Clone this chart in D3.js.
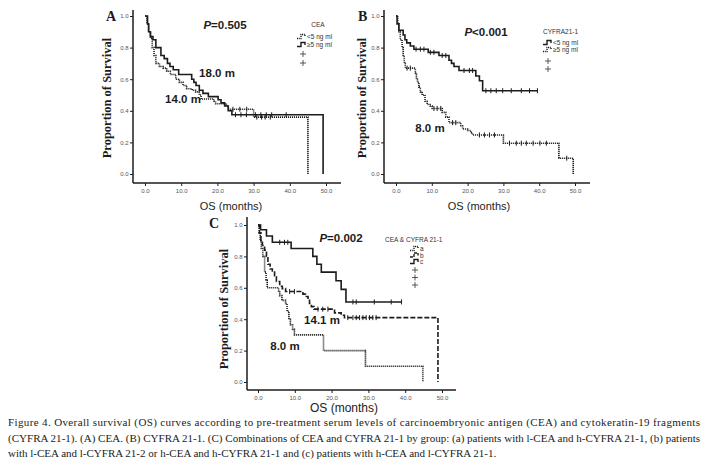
<!DOCTYPE html>
<html><head><meta charset="utf-8">
<script src="https://cdn.jsdelivr.net/npm/d3@7"></script>
<style>html,body{margin:0;padding:0;background:#fff}svg{display:block}</style>
</head><body>
<svg id="fig" width="708" height="468"></svg>
<script>
// ---------- DATA ----------
const xTicks = [0, 10, 20, 30, 40, 50];
const yTicks = [0, 0.2, 0.4, 0.6, 0.8, 1.0];

// Panel A: CEA
const aLowTimes  = [0, 0.5, 1.0, 1.5, 2.0, 2.5, 3.0, 4.0, 5.0, 6.0, 7.0, 8.5, 9.5, 10.5, 11.5, 13.0, 14.0, 15.0, 15.5, 19.0, 19.5, 22.5, 23.0, 30.0, 45.0];
const aLowSurv   = [1.0, 0.95, 0.90, 0.86, 0.80, 0.75, 0.70, 0.68, 0.67, 0.65, 0.63, 0.60, 0.58, 0.56, 0.54, 0.53, 0.52, 0.50, 0.475, 0.46, 0.445, 0.43, 0.41, 0.36, 0];
const aLowCensor = [24.3, 26.2, 28.1, 30.9, 32.2, 33.2, 34.6];
const aHighTimes  = [0, 0.7, 1.0, 1.5, 2.2, 3.0, 4.4, 5.3, 6.2, 6.9, 7.8, 9.3, 12.9, 13.5, 14.1, 15.0, 16.0, 17.5, 20.2, 21.0, 22.0, 23.0, 24.0, 49.2];
const aHighSurv   = [1.0, 0.95, 0.90, 0.87, 0.85, 0.80, 0.75, 0.73, 0.70, 0.68, 0.66, 0.63, 0.60, 0.58, 0.56, 0.53, 0.51, 0.49, 0.47, 0.45, 0.43, 0.40, 0.375, 0];
const aHighCensor = [25, 26.5, 28, 30.5, 32, 33.5, 35, 39];

// Panel B: CYFRA 21-1
const bLowTimes  = [0, 0.3, 0.8, 2.0, 2.5, 3.0, 4.0, 5.0, 9.0, 12.0, 14.8, 15.5, 16.2, 17.6, 22.3, 23.3, 24.2, 39.5];
const bLowSurv   = [1.0, 0.95, 0.91, 0.88, 0.85, 0.83, 0.81, 0.79, 0.77, 0.75, 0.72, 0.70, 0.68, 0.655, 0.62, 0.59, 0.527, 0.527];
const bLowCensor = [5.6, 6.8, 7.8, 9.6, 10.6, 12.9, 13.9, 19.0, 20.5, 21.4, 25.1, 26.5, 28.0, 29.8, 32.2, 35.0, 37.3, 39.5];
const bHighTimes  = [0, 0.5, 0.8, 1.2, 1.7, 2.0, 2.3, 2.6, 5.4, 5.7, 6.0, 6.4, 6.8, 7.3, 8.1, 8.7, 9.5, 10.1, 12.9, 13.9, 14.8, 18.1, 18.6, 20.0, 20.9, 21.4, 30.0, 45.5, 49.5];
const bHighSurv   = [1.0, 0.95, 0.90, 0.85, 0.80, 0.75, 0.70, 0.67, 0.64, 0.60, 0.58, 0.55, 0.52, 0.50, 0.46, 0.44, 0.43, 0.415, 0.39, 0.36, 0.325, 0.305, 0.285, 0.275, 0.26, 0.247, 0.195, 0.10, 0];
const bHighCensor = [3.1, 4.0, 10.6, 11.5, 12.5, 15.8, 16.7, 23.3, 24.7, 26.1, 27.5, 31.7, 33.6, 35.0, 36.4, 38.3, 40.2, 42.0, 47.7];

// Panel C: CEA & CYFRA 21-1 groups
const cATimes  = [0, 0.3, 0.6, 0.9, 1.3, 1.8, 2.2, 2.5, 5.6, 5.9, 6.5, 7.5, 7.9, 8.4, 8.8, 9.4, 9.9, 17.8, 29.2, 44.8];
const cASurv   = [1.0, 0.95, 0.90, 0.85, 0.80, 0.70, 0.65, 0.60, 0.58, 0.55, 0.52, 0.50, 0.45, 0.40, 0.365, 0.335, 0.30, 0.20, 0.10, 0];
const cACensor = [];
const cBTimes  = [0, 0.4, 0.8, 1.2, 1.8, 2.3, 2.7, 3.3, 3.9, 4.5, 5.0, 5.9, 6.6, 7.5, 12.2, 12.9, 13.6, 14.0, 14.5, 15.2, 20.8, 22.6, 23.5, 48.9];
const cBSurv   = [1.0, 0.95, 0.90, 0.87, 0.84, 0.80, 0.75, 0.72, 0.70, 0.67, 0.64, 0.61, 0.595, 0.576, 0.56, 0.545, 0.52, 0.50, 0.48, 0.464, 0.44, 0.425, 0.41, 0];
const cBCensor = [8.6, 9.9, 16.3, 17.6, 19.0, 24.4, 25.8, 26.7, 27.6, 28.5, 29.4, 30.3, 31.2, 32.1];
const cCTimes  = [0, 0.7, 2.3, 3.9, 9.0, 14.9, 16.0, 17.2, 21.2, 22.6, 23.9, 39.0];
const cCSurv   = [1.0, 0.97, 0.93, 0.89, 0.85, 0.80, 0.75, 0.70, 0.645, 0.59, 0.51, 0.51];
const cCCensor = [5.9, 7.2, 8.1, 25.8, 26.7, 31.6, 36.2, 39.0];

const captionLines = [
  "Figure 4. Overall survival (OS) curves according to pre-treatment serum levels of carcinoembryonic antigen (CEA) and cytokeratin-19 fragments",
  "(CYFRA 21-1). (A) CEA. (B) CYFRA 21-1. (C) Combinations of CEA and CYFRA 21-1 by group: (a) patients with l-CEA and h-CYFRA 21-1, (b) patients",
  "with l-CEA and l-CYFRA 21-2 or h-CEA and h-CYFRA 21-1 and (c) patients with h-CEA and l-CYFRA 21-1."
];

// ---------- DRAWING ----------
const svg = d3.select("#fig");
const INK = "#1c1c1c";
const styles = {
  solid:  {dash: null, w: 1.6},
  dotted: {dash: "1.1,0.9", w: 1.6},
  dashed: {dash: "5,2", w: 1.6}
};

function survAt(times, surv, t) {
  let s = surv[0];
  for (let i = 0; i < times.length; i++) { if (times[i] <= t) s = surv[i]; }
  return s;
}

function panel(cfg) {
  const g = svg.append("g");
  const x = d3.scaleLinear().domain([0, 50]).range([cfg.x0, cfg.x50]);
  const y = d3.scaleLinear().domain([0, 1]).range([cfg.yb, cfg.yt]);

  g.append("line").attr("x1", cfg.ax).attr("x2", cfg.ax).attr("y1", cfg.axTop).attr("y2", cfg.axY)
    .attr("stroke", INK).attr("stroke-width", 1.5);
  g.append("line").attr("x1", cfg.ax).attr("x2", cfg.axRight).attr("y1", cfg.axY).attr("y2", cfg.axY)
    .attr("stroke", INK).attr("stroke-width", 1.5);

  const yAxis = d3.axisLeft(y).tickValues(yTicks).tickSize(3).tickPadding(1.5).tickFormat(d3.format(".1f"));
  const ya = g.append("g").attr("transform", `translate(${cfg.ax},0)`).call(yAxis);
  ya.select(".domain").remove();
  ya.selectAll("line").attr("stroke", INK);
  ya.selectAll("text").attr("font-family", "Liberation Sans, Arial, sans-serif").attr("font-size", cfg.tickFs).attr("fill", "#555");

  const xAxis = d3.axisBottom(x).tickValues(xTicks).tickSize(3).tickPadding(3).tickFormat(d3.format(".1f"));
  const xa = g.append("g").attr("transform", `translate(0,${cfg.axY})`).call(xAxis);
  xa.select(".domain").remove();
  xa.selectAll("line").attr("stroke", INK);
  xa.selectAll("text").attr("font-family", "Liberation Sans, Arial, sans-serif").attr("font-size", cfg.tickFs).attr("fill", "#555");

  cfg.series.forEach(s => {
    let d = `M${x(s.times[0])},${y(s.surv[0])}`;
    for (let i = 1; i < s.times.length; i++) d += `H${x(s.times[i])}V${y(s.surv[i])}`;
    const st = styles[s.style];
    g.append("path").attr("d", d).attr("fill", "none").attr("stroke", INK)
      .attr("stroke-width", st.w).attr("stroke-dasharray", st.dash);
    g.selectAll(null).data(s.censor).enter().append("line")
      .attr("x1", t => x(t)).attr("x2", t => x(t))
      .attr("y1", t => y(survAt(s.times, s.surv, t)) - 2.5)
      .attr("y2", t => y(survAt(s.times, s.surv, t)) + 2.5)
      .attr("stroke", INK).attr("stroke-width", 1);
  });

  g.append("text").attr("x", cfg.letter[0]).attr("y", cfg.letter[1]).text(cfg.name)
    .attr("font-family", "Liberation Serif, Times New Roman, serif").attr("font-weight", "bold").attr("font-size", 14).attr("fill", INK);

  g.append("text").attr("transform", `translate(${cfg.yTitle[0]},${cfg.yTitle[1]}) rotate(-90)`)
    .attr("text-anchor", "middle").text("Proportion of Survival")
    .attr("font-family", "Liberation Serif, Times New Roman, serif").attr("font-weight", "bold").attr("font-size", cfg.yTitleFs).attr("fill", INK);

  g.append("text").attr("x", cfg.xTitle[0]).attr("y", cfg.xTitle[1]).attr("text-anchor", "middle")
    .text("OS (months)").attr("font-family", "Liberation Sans, Arial, sans-serif").attr("font-size", cfg.xTitleFs).attr("fill", INK);

  const p = g.append("text").attr("x", cfg.p[0]).attr("y", cfg.p[1]).attr("text-anchor", "middle")
    .attr("font-family", "Liberation Sans, Arial, sans-serif").attr("font-weight", "bold").attr("font-size", 11.5).attr("fill", INK);
  p.append("tspan").attr("font-style", "italic").text("P");
  p.append("tspan").text(cfg.pText);

  cfg.notes.forEach(n => {
    g.append("text").attr("x", n.x).attr("y", n.y).attr("text-anchor", "middle").text(n.t)
      .attr("font-family", "Liberation Sans, Arial, sans-serif").attr("font-weight", "bold").attr("font-size", 11.5).attr("fill", INK);
  });

  const L = cfg.legend;
  g.append("text").attr("x", L.title[0]).attr("y", L.title[1]).attr("text-anchor", L.titleAnchor).text(L.titleText)
    .attr("font-family", "Liberation Sans, Arial, sans-serif").attr("font-size", 6.5).attr("fill", "#333");
  L.rows.forEach(r => {
    const st = styles[r.style];
    g.append("path").attr("d", `M${L.sx},${r.y + 1.5}h4v-4h4v2.5`).attr("fill", "none").attr("stroke", INK)
      .attr("stroke-width", 1.4).attr("stroke-dasharray", st.dash ? (r.style === "dotted" ? "1,0.8" : "3,1") : null);
    g.append("text").attr("x", L.sx + 10).attr("y", r.y + 2).text(r.label)
      .attr("font-family", "Liberation Sans, Arial, sans-serif").attr("font-size", 6.5).attr("fill", "#333");
  });
  L.plus.forEach(py => {
    g.append("path").attr("d", `M${L.px - 3},${py}h6M${L.px},${py - 3}v6`).attr("stroke", "#333").attr("stroke-width", 0.8);
  });
}

panel({
  name: "A", x0: 145, x50: 326, yb: 174, yt: 16, ax: 133, axY: 183, axTop: 10, axRight: 341, tickFs: 6,
  letter: [106, 21], yTitle: [111, 98], yTitleFs: 12.5, xTitle: [231, 210], xTitleFs: 11,
  p: [225, 29], pText: "=0.505",
  notes: [{x: 217, y: 77, t: "18.0 m"}, {x: 183, y: 103, t: "14.0 m"}],
  series: [
    {times: aLowTimes, surv: aLowSurv, censor: aLowCensor, style: "dotted"},
    {times: aHighTimes, surv: aHighSurv, censor: aHighCensor, style: "solid"}
  ],
  legend: {titleText: "CEA", title: [318, 27], titleAnchor: "middle", sx: 297, px: 303,
    rows: [{y: 37, style: "dotted", label: "<5 ng ml"}, {y: 45, style: "solid", label: "\u22655 ng ml"}],
    plus: [54, 63]}
});

panel({
  name: "B", x0: 396, x50: 575, yb: 174, yt: 16, ax: 384, axY: 183, axTop: 10, axRight: 590, tickFs: 6,
  letter: [358, 21], yTitle: [366, 98], yTitleFs: 12.5, xTitle: [479, 210], xTitleFs: 11,
  p: [486, 36], pText: "<0.001",
  notes: [{x: 430, y: 132, t: "8.0 m"}],
  series: [
    {times: bLowTimes, surv: bLowSurv, censor: bLowCensor, style: "solid"},
    {times: bHighTimes, surv: bHighSurv, censor: bHighCensor, style: "dotted"}
  ],
  legend: {titleText: "CYFRA21-1", title: [543, 34], titleAnchor: "start", sx: 543, px: 548,
    rows: [{y: 43, style: "solid", label: "<5 ng ml"}, {y: 50, style: "dotted", label: "\u22655 ng ml"}],
    plus: [61, 69]}
});

panel({
  name: "C", x0: 258, x50: 442, yb: 382, yt: 225, ax: 247, axY: 390, axTop: 217, axRight: 456, tickFs: 6,
  letter: [209, 228], yTitle: [228, 309], yTitleFs: 12.5, xTitle: [344, 412], xTitleFs: 12,
  p: [341, 242], pText: "=0.002",
  notes: [{x: 322, y: 324, t: "14.1 m"}, {x: 285, y: 350, t: "8.0 m"}],
  series: [
    {times: cATimes, surv: cASurv, censor: cACensor, style: "dotted"},
    {times: cBTimes, surv: cBSurv, censor: cBCensor, style: "dashed"},
    {times: cCTimes, surv: cCSurv, censor: cCCensor, style: "solid"}
  ],
  legend: {titleText: "CEA & CYFRA 21-1", title: [385, 242], titleAnchor: "start", sx: 410, px: 415,
    rows: [{y: 249, style: "dotted", label: "a"}, {y: 255.5, style: "dashed", label: "b"}, {y: 262, style: "solid", label: "c"}],
    plus: [270, 277.5, 285]}
});

const cap = svg.append("g").attr("font-family", "Liberation Serif, Times New Roman, serif").attr("font-size", 11).attr("fill", "#222");
captionLines.forEach((t, i) => {
  const tx = cap.append("text").attr("x", 8).attr("y", 426 + i * 15.5).text(t);
  if (i < captionLines.length - 1) tx.attr("textLength", 692).attr("lengthAdjust", "spacing");
});
</script>
</body></html>
